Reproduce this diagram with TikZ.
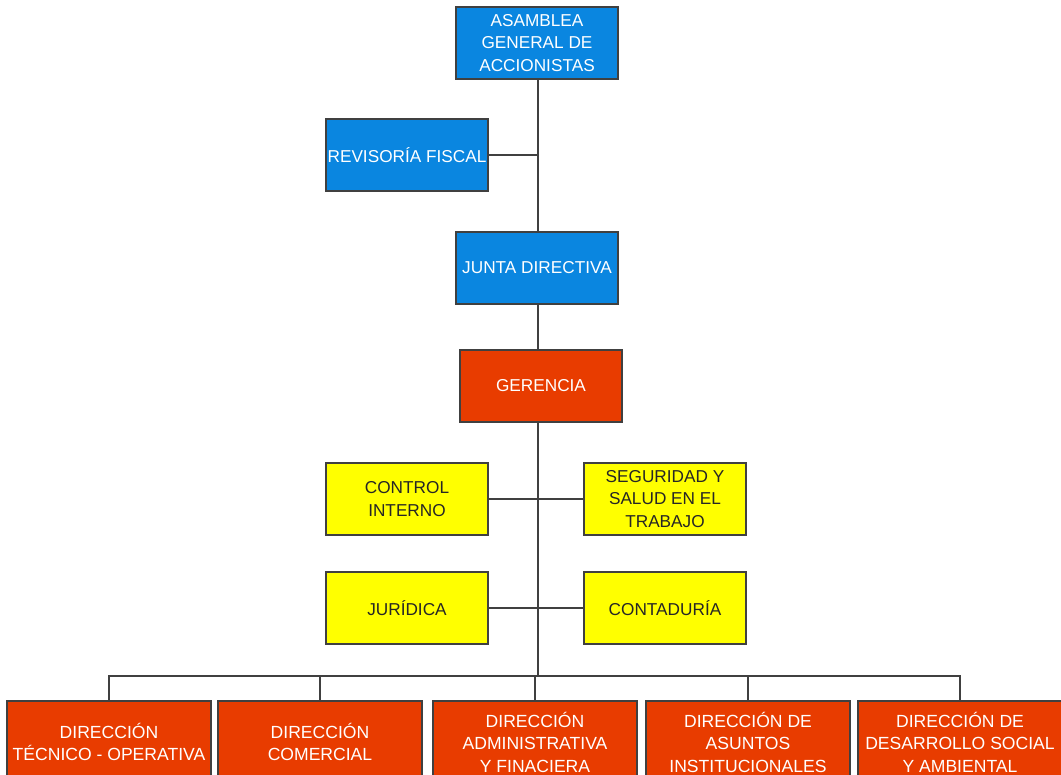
\documentclass[tikz,border=0pt]{standalone}
\usepackage{fontspec}
\setmainfont{Liberation Sans}

\definecolor{azul}{RGB}{10,134,224}
\definecolor{rojo}{RGB}{232,60,0}
\definecolor{amarillo}{RGB}{255,255,0}

\tikzset{
  caja/.style={draw=black!75, line width=0.7pt, inner sep=0pt, align=center,
    minimum width=3.24cm, minimum height=1.44cm, font=\fontsize{9.8}{12.8}\selectfont},
  cajaazul/.style={caja, fill=azul, text=white},
  cajaroja/.style={caja, fill=rojo, text=white},
  cajaamarilla/.style={caja, fill=amarillo, text=black!85},
  direccion/.style={cajaroja, minimum width=4.08cm, minimum height=1.64cm,
    font=\fontsize{10}{12.8}\selectfont},
  linea/.style={draw=black!75, line width=0.7pt}
}

\begin{document}
\begin{tikzpicture}[x=0.02cm, y=-0.02cm]
      \useasboundingbox (0,0) rectangle (1061,774);

      \node[cajaazul] (asamblea) at (537,43) {ASAMBLEA\\GENERAL DE\\ACCIONISTAS};
      \node[cajaazul] (revisoria) at (407,155) {REVISORÍA FISCAL};
      \node[cajaazul] (junta) at (537,268) {JUNTA DIRECTIVA};
      \node[cajaroja] (gerencia) at (541,386) {GERENCIA};

      \node[cajaamarilla] (control) at (407,499) {CONTROL\\INTERNO};
      \node[cajaamarilla] (seguridad) at (665,499) {SEGURIDAD Y\\SALUD EN EL\\TRABAJO};
      \node[cajaamarilla] (juridica) at (407,608) {JURÍDICA};
      \node[cajaamarilla] (contaduria) at (665,608) {CONTADURÍA};

      \node[direccion] (tecnica) at (109,742) {DIRECCIÓN\\TÉCNICO - OPERATIVA};
      \node[direccion] (comercial) at (320,742) {DIRECCIÓN\\COMERCIAL};
      \node[direccion] (administrativa) at (535,742) {DIRECCIÓN\\ADMINISTRATIVA\\Y FINACIERA};
      \node[direccion] (asuntos) at (748,742) {DIRECCIÓN DE\\ASUNTOS\\INSTITUCIONALES};
      \node[direccion] (desarrollo) at (960,742) {DIRECCIÓN DE\\DESARROLLO SOCIAL\\Y AMBIENTAL};

      % tronco
      \coordinate (bus) at (538,676);
      \draw[linea] (asamblea.south -| bus) -- (junta.north -| bus);
      \draw[linea] (junta.south -| bus) -- (gerencia.north -| bus);
      \draw[linea] (gerencia.south -| bus) -- (bus);
      \draw[linea] (revisoria.east) -- (revisoria.east -| bus);

      % staff
      \draw[linea] (control.east) -- (seguridad.west);
      \draw[linea] (juridica.east) -- (contaduria.west);

      % direcciones
      \draw[linea] (tecnica.north) |- (bus) -| (desarrollo.north);
      \draw[linea] (comercial.north) -- (comercial.north |- bus);
      \draw[linea] (administrativa.north) -- (administrativa.north |- bus);
      \draw[linea] (asuntos.north) -- (asuntos.north |- bus);

\end{tikzpicture}
\end{document}
